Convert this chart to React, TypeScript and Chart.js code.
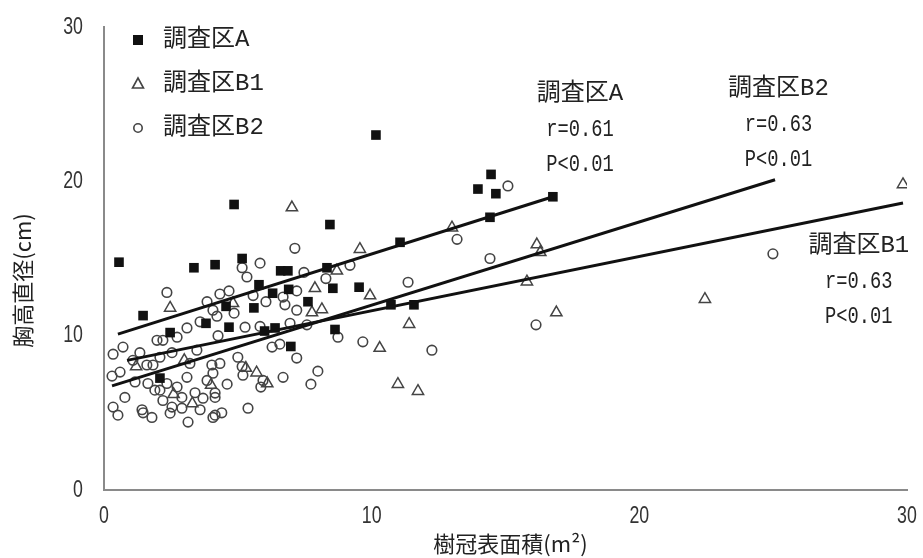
import React, { useEffect, useRef } from "react";
import { Chart, registerables } from "chart.js";

Chart.register(...registerables);

// ---- data ----
const seriesNames = ["調査区A", "調査区B1", "調査区B2"];
const xTickValues = [0, 10, 20, 30];
const yTickValues = [0, 10, 20, 30];
const xTitle = "樹冠表面積(m²)";
const yTitle = "胸高直径(cm)";

const aX = [0.56, 1.46, 2.09, 2.47, 3.36, 3.81, 4.15, 4.56, 4.67, 4.86, 5.16, 5.6, 5.79, 6.0, 6.3, 6.39, 6.6, 6.87, 6.9, 6.98, 7.62, 8.33, 8.44, 8.55, 8.63, 9.53, 10.16, 10.72, 11.06, 11.58, 13.97, 14.42, 14.46, 14.64, 16.77];
const aY = [14.76, 11.3, 7.25, 10.2, 14.4, 10.8, 14.6, 11.9, 10.55, 18.5, 15.0, 11.8, 13.3, 10.3, 12.75, 10.5, 14.2, 14.2, 13.0, 9.3, 12.2, 14.4, 17.2, 13.07, 10.4, 13.14, 23.0, 12.0, 16.05, 12.0, 19.5, 17.67, 20.45, 19.2, 19.0];

const b1X = [1.2, 2.47, 2.6, 3.0, 3.3, 4.0, 4.82, 5.3, 5.7, 6.1, 7.02, 7.77, 7.88, 8.14, 8.7, 9.56, 9.94, 10.3, 10.98, 11.4, 11.73, 13.0, 15.8, 16.17, 16.3, 16.9, 22.45, 29.85];
const b1Y = [8.0, 11.8, 6.2, 8.4, 5.6, 6.8, 12.1, 7.9, 7.6, 6.9, 18.3, 11.5, 13.07, 11.7, 14.2, 15.6, 12.6, 9.2, 6.86, 10.74, 6.4, 17.0, 13.5, 15.9, 15.4, 11.5, 12.36, 19.8];

const b2X = [7.13, 13.19, 9.19, 8.29, 7.47, 7.2, 11.36, 6.76, 7.2, 6.95, 7.58, 8.74, 9.67, 12.25, 7.2, 6.69, 7.99, 7.73, 15.09, 24.99, 16.14, 14.42,
  5.83, 5.16, 5.34, 4.33, 4.67, 5.57, 6.05, 6.69, 4.86, 4.22, 5.27, 5.83, 4.26, 6.28, 6.57, 5.0, 4.33, 5.16, 4.07, 5.19, 5.94, 5.86, 4.6, 4.15, 5.38, 4.15, 4.4,
  2.35, 0.34, 0.71, 0.3, 0.6, 0.78, 0.34, 0.52, 1.42, 1.46, 1.79, 2.2, 1.98, 1.34, 1.08, 1.16, 1.6, 1.83, 2.09, 2.54, 2.73, 3.1, 3.59, 3.85, 4.07, 3.21, 3.1, 2.73, 2.35, 1.9, 1.64, 2.2, 2.54, 2.91, 3.4, 3.7, 3.85, 4.03, 3.47, 2.47, 3.14, 2.91, 3.59, 4.07, 4.15, 2.09];
const b2Y = [15.66, 16.24, 14.56, 13.7, 14.1, 12.9, 13.46, 12.0, 11.65, 10.8, 10.7, 9.9, 9.6, 9.06, 8.55, 7.3, 7.7, 6.86, 19.7, 15.3, 10.7, 15.0,
  14.7, 14.4, 13.8, 12.7, 12.9, 12.6, 12.2, 12.5, 11.46, 11.26, 10.55, 10.6, 10.0, 9.26, 9.45, 8.6, 8.2, 8.0, 7.57, 7.44, 7.1, 6.67, 6.86, 6.28, 5.3, 4.85, 5.0,
  12.8, 8.8, 9.26, 7.38, 7.64, 6.0, 5.37, 4.85, 5.2, 5.0, 4.7, 9.7, 9.7, 8.9, 8.4, 7.0, 8.1, 8.1, 8.6, 8.9, 9.9, 10.5, 10.9, 12.2, 11.65, 8.2, 7.3, 6.67, 6.9, 6.47, 6.9, 5.8, 5.37, 6.0, 6.3, 5.95, 7.1, 8.1, 9.06, 4.98, 4.4, 5.3, 5.2, 4.7, 6.0, 6.47];

// regression line end points
const lineAX = [0.52, 16.77];
const lineAY = [10.1, 19.0];
const lineB1X = [0.86, 29.85];
const lineB1Y = [8.4, 18.6];
const lineB2X = [0.3, 25.07];
const lineB2Y = [6.75, 20.1];

// annotations
const annoTitles = ["調査区A", "調査区B2", "調査区B1"];
const annoR = ["r=0.61", "r=0.63", "r=0.63"];
const annoP = ["P<0.01", "P<0.01", "P<0.01"];
const annoAtX = [17.78, 25.2, 28.2];
const annoAtY = [25.7, 26.0, 15.86];

const zip = (xs: number[], ys: number[]) => xs.map((x, i) => ({ x, y: ys[i] }));

const CJK = "'Noto Sans CJK JP'";
const TICK_FONT = "24px 'Liberation Sans', Arial, sans-serif";
const ANNO_FONT = `'Liberation Mono', ${CJK}, monospace`;
const MARK = "#444";

const drawMarker = (ctx: CanvasRenderingContext2D, kind: number, x: number, y: number) => {
  ctx.save();
  ctx.lineWidth = 1.6;
  ctx.strokeStyle = MARK;
  ctx.fillStyle = "#111";
  if (kind === 0) {
    ctx.fillRect(x - 5, y - 5, 10, 10);
  } else if (kind === 1) {
    ctx.beginPath();
    ctx.moveTo(x, y - 6);
    ctx.lineTo(x + 5.5, y + 4);
    ctx.lineTo(x - 5.5, y + 4);
    ctx.closePath();
    ctx.stroke();
  } else {
    ctx.beginPath();
    ctx.arc(x, y, 4.2, 0, Math.PI * 2);
    ctx.stroke();
  }
  ctx.restore();
};

const narrowText = (ctx: CanvasRenderingContext2D, text: string, x: number, y: number, sx: number) => {
  ctx.save();
  ctx.translate(x, y);
  ctx.scale(sx, 1);
  ctx.fillText(text, 0, 0);
  ctx.restore();
};

const textPlugin = {
  id: "textPlugin",
  afterDraw(chart: any) {
    const { ctx, chartArea, scales } = chart;
    ctx.save();
    ctx.textBaseline = "middle";
    // tick labels
    ctx.font = TICK_FONT;
    ctx.fillStyle = "#333";
    ctx.textAlign = "center";
    xTickValues.forEach((v) => {
      narrowText(ctx, String(v), scales.x.getPixelForValue(v), chartArea.bottom + 26, 0.74);
    });
    ctx.textAlign = "right";
    yTickValues.forEach((v) => {
      narrowText(ctx, String(v), chartArea.left - 21, scales.y.getPixelForValue(v), 0.74);
    });
    ctx.fillStyle = "#222";
    // legend
    ctx.textAlign = "left";
    seriesNames.forEach((name, i) => {
      const y = chartArea.top + 13 + i * 44;
      drawMarker(ctx, i, chartArea.left + 34, y);
      ctx.font = `24px ${ANNO_FONT}`;
      ctx.fillText(name, chartArea.left + 59, y);
    });
    // annotations
    ctx.textAlign = "center";
    annoTitles.forEach((t, i) => {
      const px = scales.x.getPixelForValue(annoAtX[i]);
      const py = scales.y.getPixelForValue(annoAtY[i]);
      ctx.font = `24px ${ANNO_FONT}`;
      ctx.fillText(t, px, py);
      narrowText(ctx, annoR[i], px, py + 36, 0.78);
      narrowText(ctx, annoP[i], px, py + 71, 0.78);
    });
    // axis titles
    ctx.font = `22px ${CJK}`;
    ctx.fillText(xTitle, (chartArea.left + chartArea.right) / 2 + 5, chart.height - 14);
    ctx.translate(23, (chartArea.top + chartArea.bottom) / 2 + 22);
    ctx.rotate(-Math.PI / 2);
    ctx.fillText(yTitle, 0, 0);
    ctx.restore();
  },
};

export default function App() {
  const ref = useRef<HTMLCanvasElement | null>(null);
  useEffect(() => {
    if (!ref.current) return;
    const lineDs = (xs: number[], ys: number[]) => ({
      data: zip(xs, ys),
      showLine: true,
      borderColor: "#111",
      borderWidth: 3,
      pointRadius: 0,
      order: 0,
    });
    const chart = new Chart(ref.current, {
      type: "scatter",
      data: {
        datasets: [
          lineDs(lineAX, lineAY),
          lineDs(lineB1X, lineB1Y),
          lineDs(lineB2X, lineB2Y),
          {
            label: seriesNames[0],
            data: zip(aX, aY),
            pointStyle: "rect",
            pointRadius: 6.8,
            backgroundColor: "#111",
            borderColor: "#111",
            borderWidth: 0,
            order: 1,
          },
          {
            label: seriesNames[1],
            data: zip(b1X, b1Y),
            pointStyle: "triangle",
            pointRadius: 6.5,
            backgroundColor: "rgba(0,0,0,0)",
            borderColor: MARK,
            borderWidth: 1.5,
            order: 1,
          },
          {
            label: seriesNames[2],
            data: zip(b2X, b2Y),
            pointStyle: "circle",
            pointRadius: 4.8,
            backgroundColor: "rgba(0,0,0,0)",
            borderColor: MARK,
            borderWidth: 1.6,
            order: 1,
          },
        ] as any,
      },
      options: {
        animation: false,
        responsive: false,
        layout: { padding: { top: 27, right: 16, left: 0, bottom: 0 } },
        plugins: { legend: { display: false }, tooltip: { enabled: false } },
        scales: {
          x: {
            type: "linear",
            min: 0,
            max: 30,
            afterBuildTicks: (s: any) => {
              s.ticks = xTickValues.map((v) => ({ value: v }));
            },
            afterFit: (s: any) => {
              s.height = 68;
            },
            grid: { display: false, drawTicks: false },
            border: { display: true, color: "#8a8a8a", width: 2 },
            ticks: { display: false },
          },
          y: {
            type: "linear",
            min: 0,
            max: 30,
            afterBuildTicks: (s: any) => {
              s.ticks = yTickValues.map((v) => ({ value: v }));
            },
            afterFit: (s: any) => {
              s.width = 104;
            },
            grid: { display: false, drawTicks: false },
            border: { display: true, color: "#8a8a8a", width: 2 },
            ticks: { display: false },
          },
        },
      } as any,
      plugins: [textPlugin],
    });
    return () => chart.destroy();
  }, []);
  return (
    <div style={{ position: "absolute", left: 0, top: 0, width: 923, height: 558, background: "#fff" }}>
      <canvas ref={ref} width={923} height={558} style={{ width: 923, height: 558 }} />
    </div>
  );
}
